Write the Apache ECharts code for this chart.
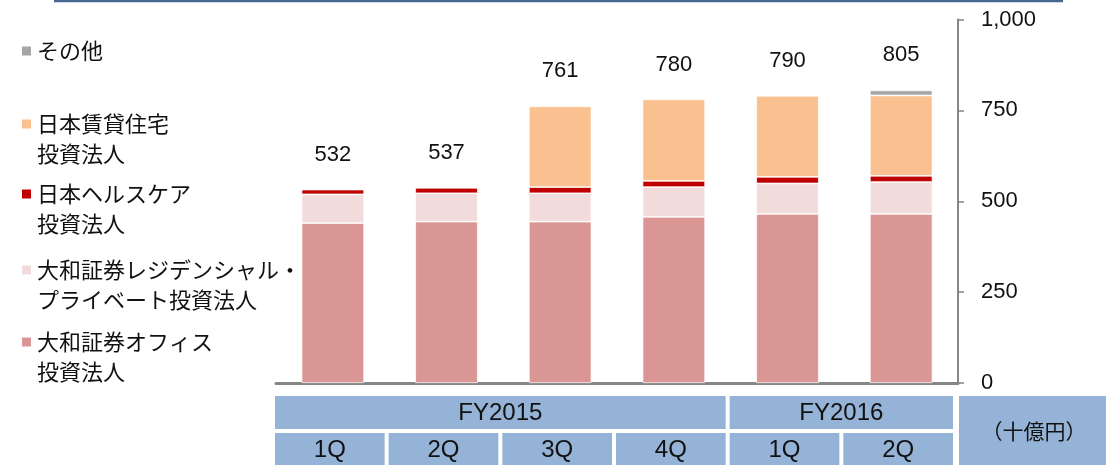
<!DOCTYPE html>
<html lang="ja">
<head>
  <meta charset="UTF-8">
  <title>投資法人 資産残高</title>
  <style>
    html, body { margin: 0; padding: 0; background: #fff; }
    #main { width: 1106px; height: 465px; }
  </style>
</head>
<body>
  <div id="main"></div>
  <script src="https://cdn.jsdelivr.net/npm/echarts@6/dist/echarts.min.js"></script>
  <script>
    // data (十億円)
    var fiscalYears = ['FY2015', 'FY2016'];
    var fiscalSpans = [4, 2];
    var quarters = ['1Q', '2Q', '3Q', '4Q', '1Q', '2Q'];
    var office = [440, 444, 444, 457, 465, 465];
    var residential = [79, 78, 78, 82, 84, 88];
    var healthcare = [13, 15, 17, 17, 18, 17];
    var rental = [null, null, 222, 224, 223, 221];
    var others = [null, null, null, null, null, 14];
    var totals = [532, 537, 761, 780, 790, 805];
    var yTicks = [0, 250, 500, 750, 1000];

    var seriesNames = [
      'その他',
      '日本賃貸住宅\n投資法人',
      '日本ヘルスケア\n投資法人',
      '大和証券レジデンシャル・\nプライベート投資法人',
      '大和証券オフィス\n投資法人'
    ];
    var seriesColors = ['#A6A6A6', '#FAC090', '#C00000', '#F2DCDB', '#D99694'];

    // x axis keys (quarter labels repeat, so prefix with fiscal year)
    var xKeys = [];
    var k = 0;
    fiscalYears.forEach(function (fy, i) {
      for (var j = 0; j < fiscalSpans[i]; j++) {
        xKeys.push(fy + ' ' + quarters[k]);
        k++;
      }
    });

    var numFont = 'Liberation Sans, Arial, sans-serif';
    var jpFont = 'Noto Sans CJK JP, sans-serif';

    function stackBar(name, data, color) {
      return {
        name: name,
        type: 'bar',
        stack: 'total',
        barCategoryGap: '45%',
        barGap: '-100%',
        data: data,
        itemStyle: { color: color, borderColor: '#fff', borderWidth: 0.7 },
        emphasis: { disabled: true }
      };
    }

    var chart = echarts.init(document.getElementById('main'));

    var option = {
      animation: false,
      grid: { left: 276, right: 148, top: 19.5, bottom: 82 },
      xAxis: {
        type: 'category',
        data: xKeys,
        axisLine: { show: true, lineStyle: { color: '#868686', width: 3 } },
        axisTick: { show: false },
        axisLabel: { show: false }
      },
      yAxis: {
        type: 'value',
        position: 'right',
        min: yTicks[0],
        max: yTicks[yTicks.length - 1],
        interval: yTicks[1] - yTicks[0],
        splitLine: { show: false },
        axisLine: { show: true, lineStyle: { color: '#868686', width: 2 } },
        axisTick: { show: true, inside: false, length: 6, lineStyle: { color: '#868686', width: 1.5 } },
        axisLabel: {
          margin: 23,
          color: '#111',
          fontSize: 22,
          fontFamily: numFont,
          formatter: function (v) { return v.toLocaleString('en-US'); }
        }
      },
      series: [
        stackBar(seriesNames[4], office, seriesColors[4]),
        stackBar(seriesNames[3], residential, seriesColors[3]),
        stackBar(seriesNames[2], healthcare, seriesColors[2]),
        stackBar(seriesNames[1], rental, seriesColors[1]),
        stackBar(seriesNames[0], others, seriesColors[0]),
        { // totals, drawn only as labels
          name: 'total',
          type: 'bar',
          barCategoryGap: '45%',
          barGap: '-100%',
          data: totals,
          z: 0,
          itemStyle: { color: 'rgba(0,0,0,0)' },
          emphasis: { disabled: true },
          label: {
            show: true,
            position: 'top',
            distance: 24,
            color: '#111',
            fontSize: 22,
            fontFamily: numFont
          }
        }
      ]
    };

    chart.setOption(option);

    // legend + category table as graphics
    var graphics = [];
    graphics.push({
      type: 'line',
      shape: { x1: 54, y1: 1, x2: 1063, y2: 1 },
      style: { stroke: '#466790', lineWidth: 2.5 }
    });

    var legendY = [51, 124, 194, 270, 342];
    seriesNames.forEach(function (name, i) {
      graphics.push({
        type: 'rect',
        shape: { x: 22, y: legendY[i] - 4.5, width: 9, height: 9 },
        style: { fill: seriesColors[i] }
      });
      graphics.push({
        type: 'text',
        x: 37,
        y: legendY[i] - 15,
        style: {
          text: name,
          fill: '#111',
          fontSize: 22,
          fontFamily: jpFont,
          lineHeight: 30,
          align: 'left',
          verticalAlign: 'top'
        }
      });
    });

    var cellFill = '#95B3D7';
    var c0 = chart.convertToPixel({ xAxisIndex: 0 }, 0);
    var c1 = chart.convertToPixel({ xAxisIndex: 0 }, 1);
    var bw = c1 - c0;
    var shift = -3;
    var rowTop = [396, 433];
    var rowH = [33, 32];

    function cell(x, y, w, h, text, size) {
      graphics.push({
        type: 'rect',
        shape: { x: x, y: y, width: w, height: h },
        style: { fill: cellFill }
      });
      graphics.push({
        type: 'text',
        x: x + w / 2,
        y: y + h / 2 + 1,
        style: {
          text: text,
          fill: '#111',
          fontSize: size,
          fontFamily: numFont,
          align: 'center',
          verticalAlign: 'middle'
        }
      });
    }

    quarters.forEach(function (q, i) {
      var cx = chart.convertToPixel({ xAxisIndex: 0 }, i) + shift;
      cell(cx - bw / 2 + 2, rowTop[1], bw - 4, rowH[1], q, 24);
    });

    var start = 0;
    fiscalYears.forEach(function (fy, i) {
      var a = chart.convertToPixel({ xAxisIndex: 0 }, start) + shift - bw / 2 + 2;
      var b = chart.convertToPixel({ xAxisIndex: 0 }, start + fiscalSpans[i] - 1) + shift + bw / 2 - 2;
      cell(a, rowTop[0], b - a, rowH[0], fy, 24);
      start += fiscalSpans[i];
    });

    graphics.push({
      type: 'rect',
      shape: { x: 959, y: rowTop[0], width: 147, height: rowTop[1] + rowH[1] - rowTop[0] },
      style: { fill: cellFill }
    });
    graphics.push({
      type: 'text',
      x: 1034,
      y: 431,
      style: {
        text: '（十億円）',
        fill: '#111',
        fontSize: 21,
        fontFamily: jpFont,
        align: 'center',
        verticalAlign: 'middle'
      }
    });

    chart.setOption({ graphic: graphics });
  </script>
</body>
</html>
